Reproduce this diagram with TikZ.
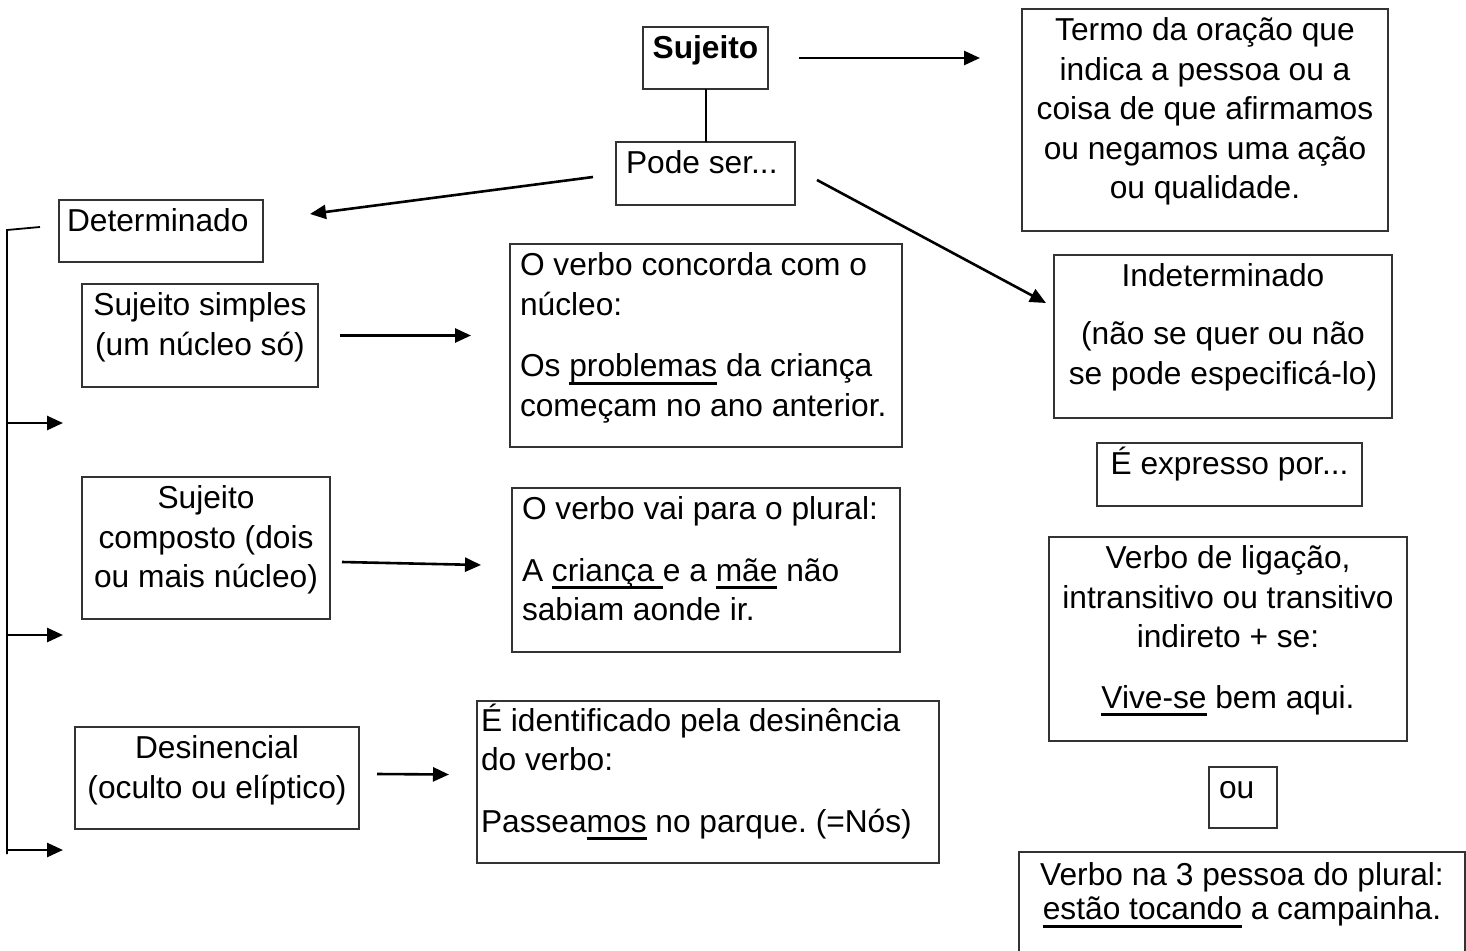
\documentclass[tikz,border=0pt]{standalone}
\usepackage{fontspec}
\setmainfont{Liberation Sans}
\usetikzlibrary{arrows.meta}
\frenchspacing
\newcommand\ULine[1]{\leavevmode\setbox0\hbox{#1}\rlap{\rule[-8pt]{\wd0}{2.8pt}}\box0\relax}
\newcommand\BoxC[4]{\parbox[c][#2pt][t]{#1pt}{\frenchspacing\vspace*{#3pt}\centering\strut#4\par}}
\newcommand\BoxL[5]{\parbox[c][#2pt][t]{#1pt}{\frenchspacing\vspace*{#3pt}\raggedright\leftskip=#4pt\strut#5\par}}
\tikzset{
  every node/.style={font=\fontsize{31.7}{39.5}\selectfont},
  bx/.style={draw=black!80, line width=1.6pt, inner sep=0pt, outer sep=0pt, anchor=north west},
  ln/.style={line width=2pt},
  arr/.style={line width=2.6pt, -{Triangle[length=16pt,width=14pt]}},
  brk/.style={line width=1.8pt},
}
\begin{document}
\begin{tikzpicture}[x=1pt,y=-1pt]
\useasboundingbox (0,0) rectangle (1466,950);
\clip (0,0) rectangle (1466,950);
\fill[white] (0,0) rectangle (1466,950);

% top
\node[bx] (suj) at (643,27) {\BoxC{125}{62}{4}{\bfseries Sujeito}};
\node[bx] (pode) at (616,142) {\BoxL{179}{63}{4}{10}{Pode ser...}};
\node[bx] (termo) at (1022,9) {\BoxC{366}{222}{4}{Termo da oração que\\indica a pessoa ou a\\coisa de que afirmamos\\ou negamos uma ação\\ou qualidade.}};
\node[bx] (det) at (59,200) {\BoxL{204}{62}{4}{8}{Determinado}};

% right column
\node[bx] (indet) at (1054,255) {\BoxC{338}{163}{4}{Indeterminado\\[18.5pt](não se quer ou não\\se pode especificá-lo)}};
\node[bx] (expr) at (1097,443) {\BoxC{265}{63}{4}{É expresso por...}};
\node[bx] (lig) at (1049,537) {\BoxC{358}{204}{4}{Verbo de ligação,\\intransitivo ou transitivo\\indireto + se:\\[21pt]\ULine{Vive-se} bem aqui.}};
\node[bx] (ou) at (1209,767) {\BoxL{68}{61}{4}{10}{ou}};
\node[bx, font=\fontsize{31.7}{32}\selectfont] (tres) at (1019,852) {\BoxC{446}{130}{11}{Verbo na 3 pessoa do plural:\\\ULine{estão tocando} a campainha.}};

% left column
\node[bx] (simp) at (82,284) {\BoxC{236}{103}{4}{Sujeito simples\\(um núcleo só)}};
\node[bx] (conc) at (510,244) {\BoxL{392}{203}{4}{10}{O verbo concorda com o\\núcleo:\\[22pt]Os \ULine{problemas} da criança\\começam no ano anterior.}};
\node[bx] (comp) at (82,477) {\BoxC{248}{142}{4}{Sujeito\\composto (dois\\ou mais núcleo)}};
\node[bx] (plur) at (512,488) {\BoxL{388}{164}{4}{10}{O verbo vai para o plural:\\[22pt]A \ULine{criança\ }e a \ULine{mãe} não\\sabiam aonde ir.}};
\node[bx] (desin) at (75,727) {\BoxC{284}{102}{4}{Desinencial\\(oculto ou elíptico)}};
\node[bx] (iden) at (477,701) {\BoxL{462}{162}{2.5}{4}{É identificado pela desinência\\do verbo:\\[22pt]Passea\ULine{mos} no parque. (=Nós)}};

% connectors
\draw[ln] (suj) -- (pode);
\draw[arr] ([xshift=31pt]suj.east) -- ([xshift=-42pt]suj.east -| termo.west);
\draw[arr] ([xshift=-23pt,yshift=-3.5pt]pode.west) -- ([xshift=47pt,yshift=17pt]det.east);
\draw[arr] ([xshift=22pt,yshift=-6.5pt]pode.east) -- ([xshift=-8pt,yshift=33.5pt]indet.west);
\draw[arr] ([xshift=22pt]simp.east) -- ([xshift=-39pt]simp.east -| conc.west);
\draw[arr] ([xshift=12pt,yshift=-14pt]comp.east) -- ([xshift=-31pt,yshift=5pt]plur.west);
\draw[arr] ([xshift=18pt,yshift=4pt]desin.east) -- ([xshift=-28pt,yshift=7.5pt]iden.west);

% bracket
\coordinate (brA) at (7,230);
\coordinate (brB) at (7,854);
\draw[brk] ([xshift=-19pt,yshift=4pt]det.west) -- (brA) -- (brB);
\coordinate (a1s) at (7,423); \coordinate (a1e) at (63,423);
\coordinate (a2s) at (7,635); \coordinate (a2e) at (63,635);
\coordinate (a3s) at (7,850); \coordinate (a3e) at (63,850);
\draw[arr] (a1s) -- (a1e);
\draw[arr] (a2s) -- (a2e);
\draw[arr] (a3s) -- (a3e);
\end{tikzpicture}
\end{document}
